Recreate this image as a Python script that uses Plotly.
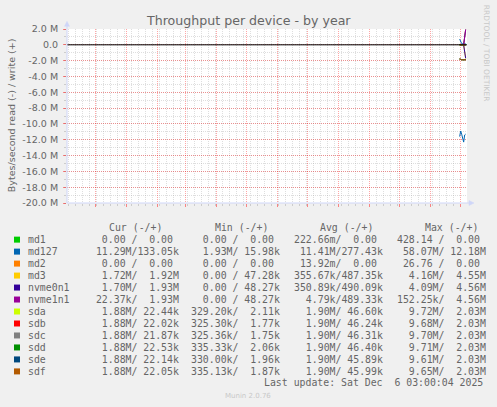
import pandas as pd
import plotly.graph_objects as go

# --- data (values in MB/s) ---
days = ["2025-11-30", "2025-12-01", "2025-12-02", "2025-12-03",
        "2025-12-04", "2025-12-05", "2025-12-06"]

md1_read = [0.0, 0.0, 0.0, 0.0, 0.0, 0.0, 0.0]
md1_write = [0.0, 0.0, 0.0, 0.0, 0.0, 0.0, 0.0]
md127_read = [11.6, 10.9, 11.3, 11.9, 12.3, 11.4, 11.29]
md127_write = [0.72, 0.5, 0.16, 0.14, 0.13, 0.13, 0.133]
md2_read = [0.0, 0.0, 0.0, 0.0, 0.0, 0.0, 0.0]
md2_write = [0.0, 0.0, 0.0, 0.0, 0.0, 0.0, 0.0]
md3_read = [None, None, None, None, 0.02, 0.9, 1.72]
md3_write = [None, None, None, None, 0.05, 1.0, 1.92]
nvme0n1_read = [None, None, None, None, 0.05, 0.9, 1.70]
nvme0n1_write = [None, None, None, None, 0.05, 1.0, 1.93]
nvme1n1_read = [None, None, None, None, 0.0, 0.01, 0.022]
nvme1n1_write = [None, None, None, None, 0.0, 0.95, 1.93]
sda_read = [1.80, 1.88, 1.88, 1.88, 1.88, 1.88, 1.88]
sda_write = [0.02, 0.022, 0.022, 0.022, 0.022, 0.022, 0.022]
sdb_read = [1.80, 1.88, 1.88, 1.88, 1.88, 1.88, 1.88]
sdb_write = [0.02, 0.022, 0.022, 0.022, 0.022, 0.022, 0.022]
sdc_read = [1.80, 1.88, 1.88, 1.88, 1.88, 1.88, 1.88]
sdc_write = [0.02, 0.022, 0.022, 0.022, 0.022, 0.022, 0.022]
sdd_read = [1.80, 1.88, 1.88, 1.88, 1.88, 1.88, 1.88]
sdd_write = [0.02, 0.022, 0.022, 0.022, 0.022, 0.022, 0.022]
sde_read = [1.80, 1.88, 1.88, 1.88, 1.88, 1.88, 1.88]
sde_write = [0.02, 0.022, 0.022, 0.022, 0.022, 0.022, 0.022]
sdf_read = [1.80, 1.88, 1.88, 1.88, 1.88, 1.88, 1.88]
sdf_write = [0.02, 0.022, 0.022, 0.022, 0.022, 0.022, 0.022]

names = ["md1", "md127", "md2", "md3", "nvme0n1", "nvme1n1",
         "sda", "sdb", "sdc", "sdd", "sde", "sdf"]
colors = ["#00CC00", "#0066B3", "#FF8000", "#FFCC00", "#330099", "#990099",
          "#CCFF00", "#FF0000", "#808080", "#008F00", "#00487D", "#B35A00"]

# legend table (read / write)
cur_read = ["0.00", "11.29M", "0.00", "1.72M", "1.70M", "22.37k",
            "1.88M", "1.88M", "1.88M", "1.88M", "1.88M", "1.88M"]
cur_write = ["0.00", "133.05k", "0.00", "1.92M", "1.93M", "1.93M",
             "22.44k", "22.02k", "21.87k", "22.53k", "22.14k", "22.05k"]
min_read = ["0.00", "1.93M", "0.00", "0.00", "0.00", "0.00",
            "329.20k", "325.30k", "325.36k", "335.33k", "330.00k", "335.13k"]
min_write = ["0.00", "15.98k", "0.00", "47.28k", "48.27k", "48.27k",
             "2.11k", "1.77k", "1.75k", "2.06k", "1.96k", "1.87k"]
avg_read = ["222.66m", "11.41M", "13.92m", "355.67k", "350.89k", "4.79k",
            "1.90M", "1.90M", "1.90M", "1.90M", "1.90M", "1.90M"]
avg_write = ["0.00", "277.43k", "0.00", "487.35k", "490.09k", "489.33k",
             "46.60k", "46.24k", "46.31k", "46.40k", "45.89k", "45.99k"]
max_read = ["428.14", "58.07M", "26.76", "4.16M", "4.09M", "152.25k",
            "9.72M", "9.68M", "9.70M", "9.71M", "9.61M", "9.65M"]
max_write = ["0.00", "12.18M", "0.00", "4.55M", "4.56M", "4.56M",
             "2.03M", "2.03M", "2.03M", "2.03M", "2.03M", "2.03M"]

y_tick_values = [2, 0, -2, -4, -6, -8, -10, -12, -14, -16, -18, -20]
y_tick_labels = ["2.0 M", "0.0", "-2.0 M", "-4.0 M", "-6.0 M", "-8.0 M",
                 "-10.0 M", "-12.0 M", "-14.0 M", "-16.0 M", "-18.0 M", "-20.0 M"]
x_tick_values = ["2025-01-16", "2025-04-16", "2025-07-16", "2025-10-16"]
x_tick_labels = ["January 2025", "April 2025", "July 2025", "October 2025"]

series_read = [md1_read, md127_read, md2_read, md3_read, nvme0n1_read, nvme1n1_read,
               sda_read, sdb_read, sdc_read, sdd_read, sde_read, sdf_read]
series_write = [md1_write, md127_write, md2_write, md3_write, nvme0n1_write, nvme1n1_write,
                sda_write, sdb_write, sdc_write, sdd_write, sde_write, sdf_write]

# --- page geometry (pixels) ---
W, H = 497, 407
L, R, T, B = 67, 30, 28.7, 204
PW, PH = W - L - R, H - T - B


def px(x):
    return (x - L) / PW


def py(y):
    return (H - B - y) / PH


FONT = "DejaVu Sans"
MONO = "DejaVu Sans Mono"
TXT = "#666666"
AXIS = "#CFD6F8"

x_dates = pd.to_datetime(days)
fig = go.Figure()
for i in range(len(names)):
    rd = [None if v is None else -v * 1e6 for v in series_read[i]]
    wr = [None if v is None else v * 1e6 for v in series_write[i]]
    for vals in (rd, wr):
        fig.add_trace(go.Scatter(x=x_dates, y=vals, mode="lines",
                                 line=dict(color=colors[i], width=1),
                                 showlegend=False, hoverinfo="skip"))

x_range = ["2024-11-02 08:00", "2025-12-07 08:00"]
fig.update_layout(
    width=W, height=H,
    margin=dict(l=L, r=R, t=T, b=B, pad=0),
    paper_bgcolor="#F0F0F0", plot_bgcolor="#FFFFFF",
    font=dict(family=FONT, color=TXT, size=9.5),
    showlegend=False,
    xaxis=dict(type="date", range=x_range, showline=False, zeroline=False,
               showticklabels=False, dtick="M1", tick0="2024-12-01",
               showgrid=True, gridcolor="rgba(255,0,0,0.35)", griddash="1px,1px",
               gridwidth=1, ticks="outside", ticklen=3, tickcolor="rgba(255,0,0,0.45)",
               minor=dict(dtick=7 * 86400000, tick0="2024-11-04", showgrid=True,
                          gridcolor="rgba(160,160,160,0.35)", griddash="1px,1px",
                          ticks="outside", ticklen=2, tickcolor="rgba(160,160,160,0.45)")),
    xaxis2=dict(type="date", range=x_range, overlaying="x", anchor="y", side="bottom",
                tickmode="array", tickvals=x_tick_values, ticktext=x_tick_labels,
                showgrid=False, zeroline=False, showline=False, ticks="",
                ticklabelstandoff=4, tickfont=dict(size=9.5, color=TXT)),
    yaxis=dict(range=[-20e6, 2e6], tickmode="array",
               tickvals=[v * 1e6 for v in y_tick_values], ticktext=y_tick_labels,
               showgrid=True, gridcolor="rgba(255,0,0,0.35)", griddash="1px,1px",
               zeroline=False, showline=False, ticks="outside", ticklen=3,
               tickcolor="rgba(255,0,0,0.45)", ticklabelstandoff=3,
               minor=dict(dtick=1e6, showgrid=True, gridcolor="rgba(160,160,160,0.35)",
                          griddash="1px,1px", ticks="outside", ticklen=2,
                          tickcolor="rgba(160,160,160,0.45)")),
)

shapes = []
# zero rule
shapes.append(dict(type="line", xref="paper", yref="y", x0=0, x1=1, y0=0, y1=0,
                   line=dict(color="#000000", width=1), layer="above"))
# axis lines and arrows
shapes.append(dict(type="line", xref="paper", yref="paper", x0=0, x1=0,
                   y0=0, y1=py(23), line=dict(color=AXIS, width=1), layer="above"))
shapes.append(dict(type="line", xref="paper", yref="paper", x0=0, x1=px(471),
                   y0=0, y1=0, line=dict(color=AXIS, width=1), layer="above"))
shapes.append(dict(type="path", xref="paper", yref="paper", layer="above",
                   path=f"M {px(64.5)} {py(26)} L {px(67)} {py(21)} L {px(69.5)} {py(26)} Z",
                   fillcolor=AXIS, line=dict(color=AXIS, width=0.5)))
shapes.append(dict(type="path", xref="paper", yref="paper", layer="above",
                   path=f"M {px(469)} {py(200.5)} L {px(474)} {py(203)} L {px(469)} {py(205.5)} Z",
                   fillcolor=AXIS, line=dict(color=AXIS, width=0.5)))

ann = []
ann.append(dict(text="Throughput per device - by year", x=px(248.3), y=py(19.7),
                xref="paper", yref="paper", showarrow=False, xanchor="center",
                yanchor="middle", font=dict(size=12.6, color=TXT)))
ann.append(dict(text="Bytes/second read (-) / write (+)", x=px(11), y=py(115),
                xref="paper", yref="paper", showarrow=False, textangle=-90,
                xanchor="center", yanchor="middle", font=dict(size=9.5, color=TXT)))
ann.append(dict(text="RRDTOOL / TOBI OETIKER", x=px(486.5), y=py(53),
                xref="paper", yref="paper", showarrow=False, textangle=90,
                xanchor="center", yanchor="middle", font=dict(size=7.5, color="#C8C8C8")))
ann.append(dict(text="Munin 2.0.76", x=px(247.5), y=py(396.3),
                xref="paper", yref="paper", showarrow=False, xanchor="center",
                yanchor="middle", font=dict(size=7, color="#C8C8C8")))


def pad(v):
    return v + " " if v[-1].isdigit() else v


def cell(r, w):
    return f"{pad(r):>7}/{pad(w):>7}"


def mono(text, x, y):
    ann.append(dict(text=text.replace(" ", "\u00a0"), x=px(x), y=py(y),
                    xref="paper", yref="paper", showarrow=False, xanchor="left",
                    yanchor="middle", font=dict(family=MONO, size=9.85, color=TXT)))


for hdr, hx in (("Cur (-/+)", 107.3), ("Min (-/+)", 212.7),
                ("Avg (-/+)", 317.7), ("Max (-/+)", 422.7)):
    mono(hdr, hx, 227.7)

for i, name in enumerate(names):
    ry = 239.7 + 12 * i
    shapes.append(dict(type="rect", xref="paper", yref="paper",
                       x0=px(14), x1=px(20), y0=py(ry + 3), y1=py(ry - 3),
                       fillcolor=colors[i], line=dict(width=0)))
    mono(name, 26, ry)
    mono(cell(cur_read[i], cur_write[i]), 87.5, ry)
    mono(cell(min_read[i], min_write[i]), 189.3, ry)
    mono(cell(avg_read[i], avg_write[i]), 292.2, ry)
    mono(cell(max_read[i], max_write[i]), 394.6, ry)

mono("Last update: Sat Dec  6 03:00:04 2025", 261.7, 383.3)

fig.update_layout(shapes=shapes, annotations=ann)
fig.write_html("out.html", config={"displayModeBar": False},
               post_script="document.body.style.margin='0px';")
